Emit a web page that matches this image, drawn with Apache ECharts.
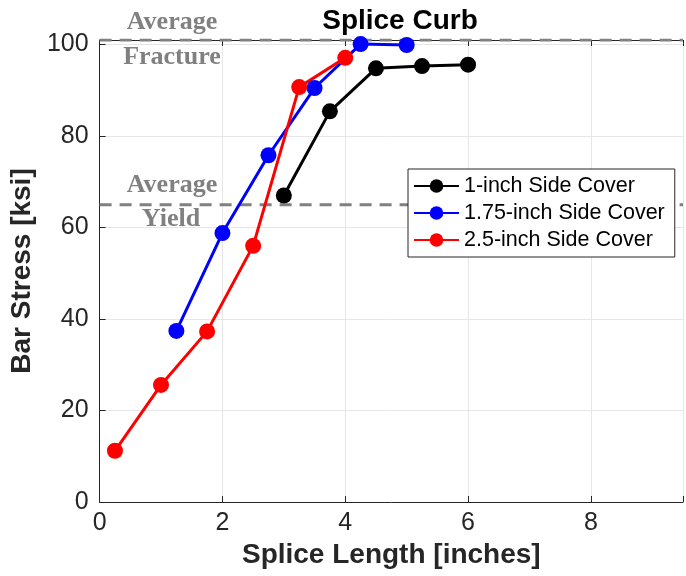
<!DOCTYPE html>
<html>
<head>
<meta charset="utf-8">
<script src="https://cdn.jsdelivr.net/npm/echarts@6/dist/echarts.min.js"></script>
<style>html,body{margin:0;padding:0;background:#fff}#c{width:686px;height:576px}</style>
</head>
<body>
<div id="c"></div>
<script>
// Data
const seriesNames = ['1-inch Side Cover', '1.75-inch Side Cover', '2.5-inch Side Cover'];
const spliceLen1 = [3, 3.75, 4.5, 5.25, 6];
const stress1 = [67.0, 85.4, 94.8, 95.3, 95.6];
const spliceLen175 = [1.25, 2, 2.75, 3.5, 4.25, 5];
const stress175 = [37.4, 58.8, 75.8, 90.5, 100.1, 99.9];
const spliceLen25 = [0.25, 1, 1.75, 2.5, 3.25, 4];
const stress25 = [11.2, 25.6, 37.3, 56.0, 90.7, 97.1];
const yieldStress = 65;
const fractureStress = 101;
const xMax = 9.5;
const refRange = [0, xMax];
const xTicks = [0, 2, 4, 6, 8];
const yTicks = [0, 20, 40, 60, 80, 100];

const colors = ['#000000', '#0000ff', '#ff0000'];
const F = 'Liberation Sans, Arial, sans-serif';
const SERIF = 'Liberation Serif, Times New Roman, serif';

function pairs(xs, ys) { return xs.map((x, i) => [x, ys[i]]); }

const chart = echarts.init(document.getElementById('c'), null, {renderer: 'canvas'});
const dataSeries = [[spliceLen1, stress1], [spliceLen175, stress175], [spliceLen25, stress25]].map((d, i) => ({
  name: seriesNames[i],
  type: 'line',
  data: pairs(d[0], d[1]),
  symbol: 'circle',
  symbolSize: 16,
  z: 5,
  lineStyle: {color: colors[i], width: 3},
  itemStyle: {color: colors[i]},
  animation: false
}));
const refLine = (v) => ({
  type: 'line',
  data: refRange.map(x => [x, v]),
  symbol: 'none',
  silent: true,
  z: 3,
  lineStyle: {color: '#808080', width: 3, type: [12, 8]},
  animation: false
});

chart.setOption({
  backgroundColor: '#fff',
  animation: false,
  title: {
    text: 'Splice Curb', left: 395, top: 2, textAlign: 'center',
    textStyle: {fontFamily: F, fontSize: 28, fontWeight: 'bold', color: '#000'}
  },
  grid: {left: 97, top: 40, width: 593, height: 462, containLabel: false},
  legend: {
    orient: 'vertical', left: 408, top: 169,
    data: seriesNames,
    backgroundColor: '#fff', borderColor: '#262626', borderWidth: 1,
    padding: [6, 10, 6, 5],
    itemWidth: 45, itemHeight: 17, itemGap: 5,
    textStyle: {fontFamily: F, fontSize: 21.5, color: '#000', lineHeight: 22}
  },
  xAxis: [{
    type: 'value', min: 0, max: xMax, interval: 2,
    name: 'Splice Length [inches]', nameLocation: 'middle', nameGap: 39,
    nameTextStyle: {fontFamily: F, fontSize: 28, fontWeight: 'bold', color: '#262626'},
    axisLine: {show: true, onZero: false, lineStyle: {color: '#262626', width: 1}},
    axisTick: {show: true, inside: true, length: 6, lineStyle: {color: '#262626'}},
    axisLabel: {fontFamily: F, fontSize: 25, color: '#262626', margin: 9,
      formatter: v => xTicks.includes(v) ? String(v) : ''},
    splitLine: {show: true, lineStyle: {color: '#e6e6e6', width: 1}}
  }, {
    type: 'value', min: 0, max: xMax, interval: 2, position: 'top',
    axisLine: {show: true, onZero: false, lineStyle: {color: '#262626', width: 1}},
    axisTick: {show: true, inside: true, length: 6, lineStyle: {color: '#262626'}},
    axisLabel: {show: false}, splitLine: {show: false}
  }],
  yAxis: {
    type: 'value', min: 0, max: fractureStress, interval: 20,
    name: 'Bar Stress [ksi]', nameLocation: 'middle', nameGap: 57,
    nameTextStyle: {fontFamily: F, fontSize: 28, fontWeight: 'bold', color: '#262626'},
    axisLine: {show: true, onZero: false, lineStyle: {color: '#262626', width: 1}},
    axisTick: {show: true, inside: true, length: 6, lineStyle: {color: '#262626'}},
    axisLabel: {fontFamily: F, fontSize: 25, color: '#262626', margin: 11,
      formatter: v => yTicks.includes(v) ? String(v) : ''},
    splitLine: {show: true, lineStyle: {color: '#e6e6e6', width: 1}}
  },
  graphic: [
    {type: 'text', x: 172, y: 22, style: {text: 'Average', textAlign: 'center', textVerticalAlign: 'middle', font: 'bold 26px ' + SERIF, fill: '#808080'}, z: 10},
    {type: 'text', x: 172, y: 57, style: {text: 'Fracture', textAlign: 'center', textVerticalAlign: 'middle', font: 'bold 26px ' + SERIF, fill: '#808080'}, z: 10},
    {type: 'text', x: 172, y: 185, style: {text: 'Average', textAlign: 'center', textVerticalAlign: 'middle', font: 'bold 26px ' + SERIF, fill: '#808080'}, z: 10},
    {type: 'text', x: 171, y: 219, style: {text: 'Yield', textAlign: 'center', textVerticalAlign: 'middle', font: 'bold 26px ' + SERIF, fill: '#808080'}, z: 10}
  ],
  series: [refLine(yieldStress), refLine(fractureStress)].concat(dataSeries)
});
</script>
</body>
</html>
